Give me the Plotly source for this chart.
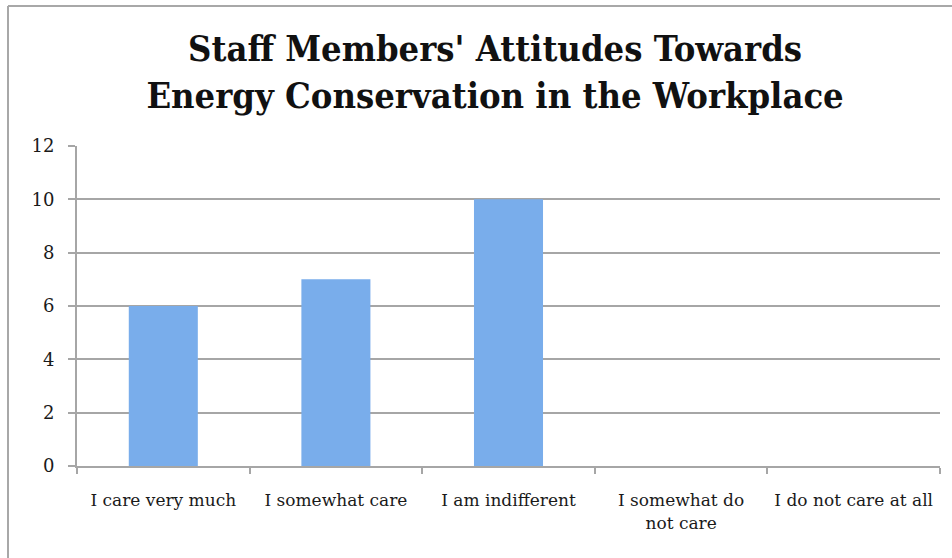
import plotly.graph_objects as go

categories = ["I care very much", "I somewhat care", "I am indifferent",
              "I somewhat do<br>not care", "I do not care at all"]
values = [6, 7, 10, 0, 0]
y_ticks = [0, 2, 4, 6, 8, 10, 12]

W, H = 952, 558
ml, mr, mt, mb = 77, 12, 146, 92
pw, ph = W - ml - mr, H - mt - mb

grid = "#A6A6A6"
serif = "DejaVu Serif, Liberation Serif, serif"
title_font = "DejaVu Serif Condensed, DejaVu Serif, serif"

fig = go.Figure()
fig.add_trace(go.Bar(
    x=categories, y=values,
    width=0.4,
    marker=dict(color="#79ADEB", line=dict(width=0)),
    hoverinfo="x+y",
))

# figure border (top and left)
bx = (8 - ml) / pw
by = (H - mb - 6) / ph
fig.add_shape(type="line", xref="paper", yref="paper",
              x0=bx, x1=1.2, y0=by, y1=by, line=dict(color="#A8A8A8", width=2))
fig.add_shape(type="line", xref="paper", yref="paper",
              x0=bx, x1=bx, y0=-0.5, y1=by, line=dict(color="#A8A8A8", width=2))

fig.update_layout(
    width=W, height=H,
    margin=dict(l=ml, r=mr, t=mt, b=mb, autoexpand=False),
    paper_bgcolor="white", plot_bgcolor="white",
    showlegend=False,
    title=dict(
        text="<b>Staff Members' Attitudes Towards<br>Energy Conservation in the Workplace</b>",
        x=0.52, xanchor="center", xref="container",
        y=0.89, yanchor="top", yref="container",
        font=dict(family=title_font, size=36, color="#111111"),
    ),
    font=dict(family=serif, size=17, color="#1a1a1a"),
    bargap=0.6,
)
fig.update_xaxes(
    type="category",
    showline=True, linecolor=grid, linewidth=2,
    ticks="outside", tickson="boundaries", ticklen=6, tickcolor=grid, tickwidth=2,
    showgrid=False, tickangle=0, automargin=False,
    tickfont=dict(family=serif, size=17, color="#1a1a1a"),
    ticklabelstandoff=18,
)
fig.update_yaxes(
    range=[0, 12], tickvals=y_ticks, automargin=False,
    showline=True, linecolor=grid, linewidth=2,
    ticks="outside", ticklen=7, tickcolor=grid, tickwidth=2,
    showgrid=True, gridcolor=grid, gridwidth=2,
    zeroline=False,
    tickfont=dict(family=serif, size=18, color="#1a1a1a"),
    ticklabelstandoff=10,
)

fig.write_html("out.html", config={"displayModeBar": False},
               post_script="document.body.style.margin='0';")
